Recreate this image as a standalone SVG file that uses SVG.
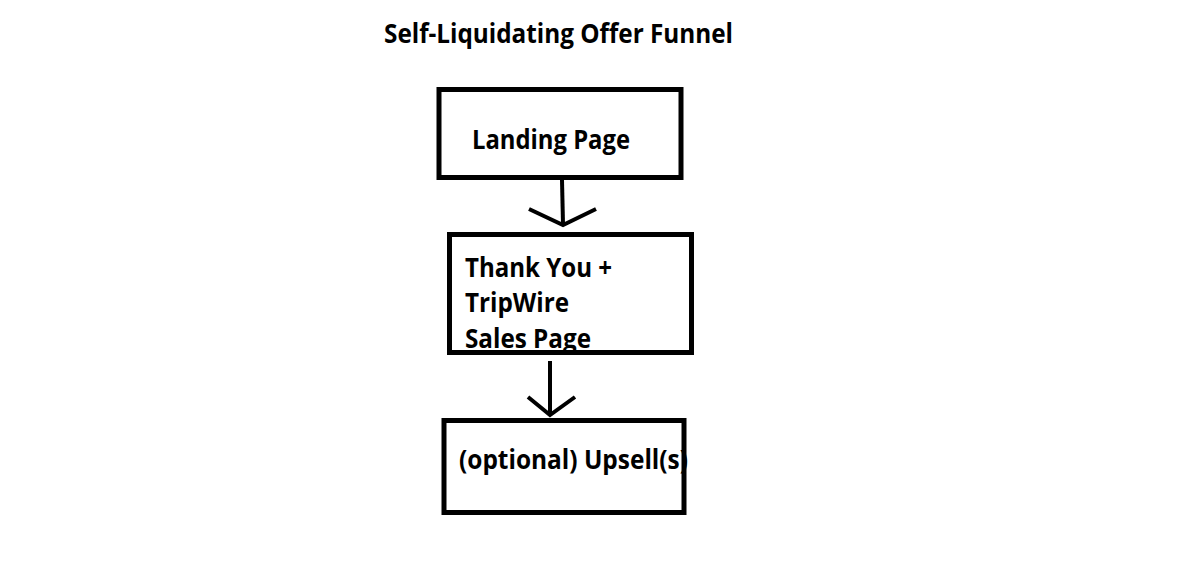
<svg xmlns="http://www.w3.org/2000/svg" width="1177" height="562" viewBox="0 0 1177 562">
<style>
.bg{fill:#ffffff}
.box{fill:none;stroke:#000000;stroke-width:5}
.lbl{font-family:"Open Sans","Liberation Sans",sans-serif;font-weight:bold;font-size:26px;fill:#000000}
.conn{fill:none;stroke:#000000;stroke-width:4;stroke-linejoin:miter;stroke-linecap:butt}
</style>
<rect class="bg" x="0" y="0" width="1177" height="562"/>
<g id="title">
<text class="lbl" x="384" y="43" textLength="349" lengthAdjust="spacingAndGlyphs">Self-Liquidating Offer Funnel</text>
</g>
<g id="landing-page">
<rect class="box" x="439" y="89.5" width="242" height="88"/>
<text class="lbl" x="472" y="149" textLength="158" lengthAdjust="spacingAndGlyphs">Landing Page</text>
</g>
<g id="thank-you">
<rect class="box" x="449.5" y="234.5" width="242" height="118"/>
<text class="lbl" x="465" y="277" textLength="147" lengthAdjust="spacingAndGlyphs">Thank You +</text>
<text class="lbl" x="465" y="312" textLength="104" lengthAdjust="spacingAndGlyphs">TripWire</text>
<text class="lbl" x="465" y="348" textLength="126" lengthAdjust="spacingAndGlyphs">Sales Page</text>
</g>
<g id="upsells">
<rect class="box" x="444" y="420.5" width="240" height="92"/>
<text class="lbl" x="459" y="469" textLength="229" lengthAdjust="spacingAndGlyphs">(optional) Upsell(s)</text>
</g>
<g id="connectors">
<path class="conn" d="M562 180 L563 224"/>
<path class="conn" d="M529 209 L563 225 L596 209"/>
<path class="conn" d="M550 361 L550 414"/>
<path class="conn" d="M528 397 L550 415 L575 397"/>
</g>
</svg>
